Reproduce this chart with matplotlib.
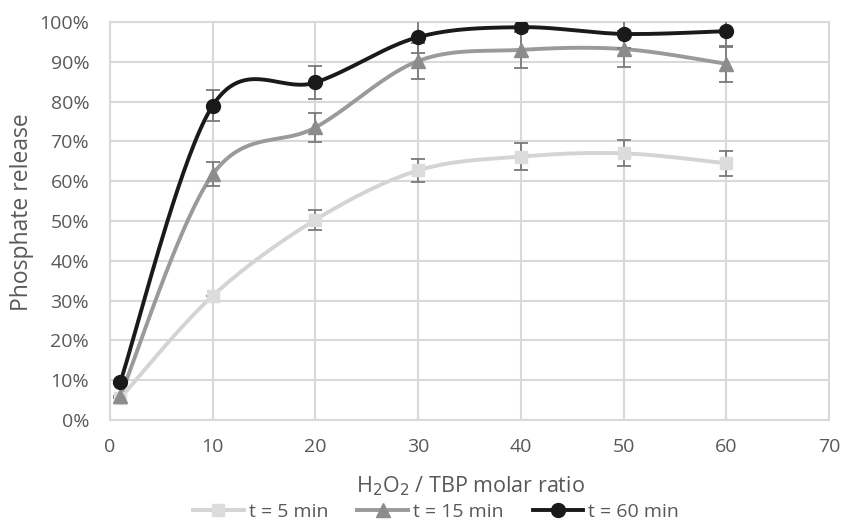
import numpy as np
import matplotlib
matplotlib.use("Agg")
import matplotlib.pyplot as plt
from matplotlib.ticker import FuncFormatter

plt.rcParams['font.family'] = ['Open Sans', 'DejaVu Sans']

x = [1, 10, 20, 30, 40, 50, 60]
t5 = [5.5, 31.2, 50.3, 62.7, 66.2, 67.0, 64.5]
t5_err = [0.0, 0.0, 2.5, 3.0, 3.3, 3.3, 3.2]
t15 = [6.0, 61.7, 73.5, 90.2, 93.0, 93.2, 89.5]
t15_err = [0.0, 3.0, 3.6, 4.5, 4.6, 4.5, 4.5]
t60 = [9.5, 79.0, 84.8, 96.2, 98.7, 97.0, 97.7]
t60_err = [0.0, 3.8, 4.2, 4.0, 0.0, 3.5, 3.9]
labels = ['t = 5 min', 't = 15 min', 't = 60 min']


def smooth(xs, ys, n=40):
    xs = np.asarray(xs, float); ys = np.asarray(ys, float)
    P = np.column_stack([xs, ys])
    out = []
    for i in range(len(P) - 1):
        p0 = P[i - 1] if i > 0 else P[i]
        p1 = P[i]; p2 = P[i + 1]
        p3 = P[i + 2] if i + 2 < len(P) else P[i + 1]
        c1 = p1 + (p2 - p0) / 6.0
        c2 = p2 - (p3 - p1) / 6.0
        t = np.linspace(0, 1, n)[:, None]
        seg = (1 - t) ** 3 * p1 + 3 * (1 - t) ** 2 * t * c1 + 3 * (1 - t) * t ** 2 * c2 + t ** 3 * p2
        out.append(seg if i == 0 else seg[1:])
    s = np.vstack(out)
    return s[:, 0], s[:, 1]


W, H = 846, 524
fig = plt.figure(figsize=(W / 100, H / 100), dpi=100)
L, R, T, B = 110, 829, 22, 420
ax = fig.add_axes([L / W, 1 - B / H, (R - L) / W, (B - T) / H])

series = [
    (t5, t5_err, '#d4d4d4', '#dcdcdc', 's', 9),
    (t15, t15_err, '#9a9a9a', '#8c8c8c', '^', 10),
    (t60, t60_err, '#1a1a1a', '#1a1a1a', 'o', 10),
]
handles = []
for (ys, err, lc, mc, mk, ms), lab in zip(series, labels):
    sx, sy = smooth(x, ys)
    ax.plot(sx, sy, color=lc, lw=2.8, zorder=3, solid_capstyle='round')
    ax.errorbar(x, ys, yerr=err, fmt='none', ecolor='#7a7a7a', elinewidth=1.3,
                capsize=5, capthick=1.3, zorder=4)
    ax.plot(x, ys, linestyle='none', marker=mk, color=mc, markersize=ms, zorder=5)
    h, = ax.plot([], [], color=lc, lw=2.8, marker=mk, markerfacecolor=mc,
                 markeredgecolor=mc, markersize=ms, label=lab)
    handles.append(h)

ax.set_xlim(0, 70)
ax.set_ylim(0, 100)
ax.set_xticks(range(0, 71, 10))
ax.set_yticks(range(0, 101, 10))
ax.yaxis.set_major_formatter(FuncFormatter(lambda v, p: f'{int(v)}%'))
ax.grid(True, color='#d9d9d9', lw=1.5)
ax.set_axisbelow(True)
for s in ax.spines.values():
    s.set_color('#d9d9d9')
    s.set_linewidth(1.5)
ax.tick_params(length=0, labelsize=14, colors='#595959')
ax.tick_params(axis='y', pad=15)
ax.tick_params(axis='x', pad=13)

ax.set_ylabel('Phosphate release', fontsize=16.5, color='#595959', va='center', ha='center')
ax.yaxis.set_label_coords((22 - L) / (R - L), (B - 212) / (B - T))
ax.set_xlabel(r'H$_2$O$_2$ / TBP molar ratio', fontsize=15.5, color='#595959', va='center', ha='center')
ax.xaxis.set_label_coords((470 - L) / (R - L), (B - 486) / (B - T))

fig.legend(handles=handles, loc='center', bbox_to_anchor=(436 / W, 1 - 512 / H), ncol=3,
           frameon=False, fontsize=14, labelcolor='#595959', handlelength=2.6,
           handletextpad=0.25, columnspacing=1.5, borderpad=0)

fig.savefig('out.png', dpi=100)
